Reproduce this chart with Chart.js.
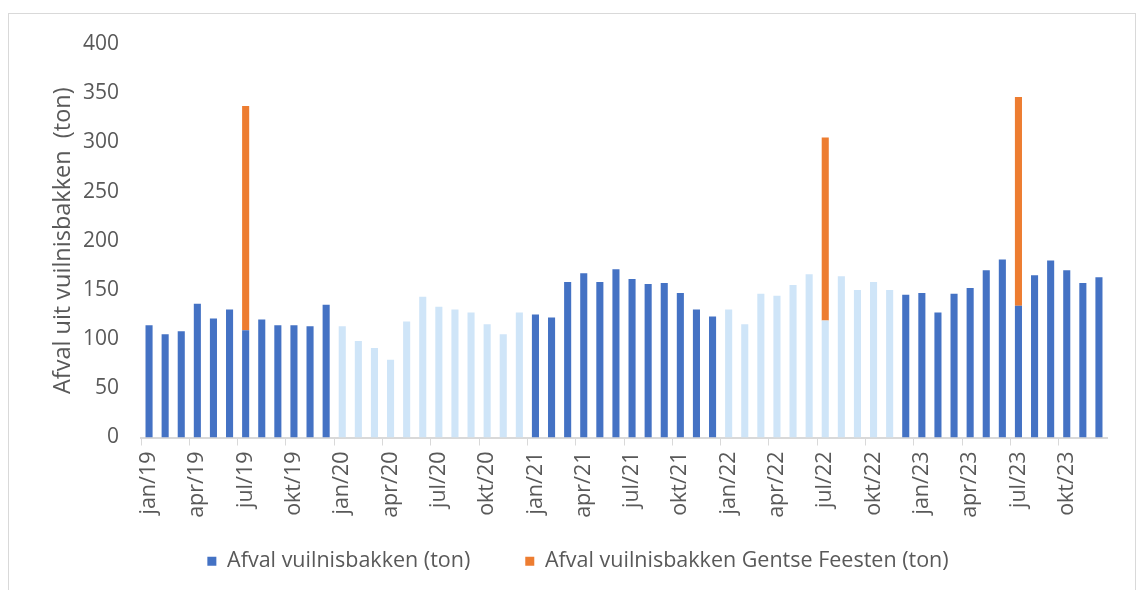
<!DOCTYPE html>
<html>
<head>
<meta charset="utf-8">
<script src="https://cdn.jsdelivr.net/npm/chart.js@4"></script>
<style>
  body { margin: 0; background: #fff; }
  #wrap { position: relative; width: 1136px; height: 590px; }
  #frame { position: absolute; left: 8px; top: 13px; width: 1126px; height: 600px; border: 1px solid #d9d9d9; }
  canvas { position: absolute; left: 0; top: 0; }
</style>
</head>
<body>
<div id="wrap">
  <div id="frame"></div>
  <canvas id="myChart" width="1136" height="590"></canvas>
</div>
<script>
var maanden = ["jan", "feb", "mrt", "apr", "mei", "jun", "jul", "aug", "sep", "okt", "nov", "dec"];
var jaren = ["19", "20", "21", "22", "23"];

// tonnen per maand, jan/19 t.e.m. dec/23
var afval = [
    114, 105, 108, 136, 121, 130, 109, 120, 114, 114, 113, 135,
    113, 98, 91, 79, 118, 143, 133, 130, 127, 115, 105, 127,
    125, 122, 158, 167, 158, 171, 161, 156, 157, 147, 130, 123,
    130, 115, 146, 144, 155, 166, 119, 164, 150, 158, 150, 145,
    147, 127, 146, 152, 170, 181, 134, 165, 180, 170, 157, 163
];
// extra tijdens de Gentse Feesten (juli)
var feesten = {6: 228, 42: 186, 54: 212};

var yTicks = [0, 50, 100, 150, 200, 250, 300, 350, 400];

var labels = [];
for (var j in jaren) {
    for (var m in maanden) {
        labels.push(maanden[m] + "/" + jaren[j]);
    }
}
var gentse = afval.map(function (v, i) { return feesten[i] !== undefined ? feesten[i] : null; });

var blauw = '#4472C4';
var lichtblauw = '#CFE5F8';
var oranje = '#ED7D31';
var grijs = '#595959';
var lijn = '#d9d9d9';
var font = "'Open Sans', sans-serif";

function barColor(ctx) {
    var i = ctx.dataIndex;
    if (i === undefined) return blauw;
    if ((i >= 12 && i <= 23) || (i >= 36 && i <= 46)) return lichtblauw;
    return blauw;
}

// legend: keep the wide gap between items but not the tall box
var legendFix = {
    id: 'legendFix',
    beforeInit: function (chart) {
        var fit = chart.legend.fit;
        chart.legend.fit = function () {
            fit.bind(chart.legend)();
            this.height = 52.5;
        };
    },
    afterLayout: function (chart) {
        chart.legend.top -= 42;
        chart.legend.bottom = chart.height;
    }
};

var ctx = document.getElementById("myChart").getContext('2d');
var myChart = new Chart(ctx, {
    type: 'bar',
    data: {
        labels: labels,
        datasets: [
            {
                label: 'Afval vuilnisbakken (ton)',
                data: afval,
                backgroundColor: barColor,
                barPercentage: 0.44,
                categoryPercentage: 1
            },
            {
                label: 'Afval vuilnisbakken Gentse Feesten (ton)',
                data: gentse,
                backgroundColor: oranje,
                barPercentage: 0.44,
                categoryPercentage: 1
            }
        ]
    },
    options: {
        responsive: false,
        animation: false,
        layout: { padding: { left: 49, right: 29, top: 44, bottom: 0 } },
        plugins: {
            tooltip: { enabled: false },
            legend: {
                position: 'bottom',
                labels: {
                    boxWidth: 9,
                    boxHeight: 9,
                    padding: 55,
                    color: grijs,
                    font: { family: font, size: 21.5 }
                }
            }
        },
        scales: {
            x: {
                stacked: true,
                offset: true,
                afterFit: function (scale) { scale.height = 100; },
                grid: {
                    offset: true,
                    drawOnChartArea: false,
                    tickLength: 8,
                    color: function (c) { return c.index % 3 === 0 ? lijn : 'rgba(0,0,0,0)'; }
                },
                border: { color: lijn, width: 2 },
                ticks: {
                    autoSkip: false,
                    minRotation: 90,
                    maxRotation: 90,
                    padding: 6,
                    color: grijs,
                    font: { family: font, size: 21.5 },
                    callback: function (v, i) { return i % 3 === 0 ? labels[i] : ''; }
                }
            },
            y: {
                stacked: true,
                min: yTicks[0],
                max: yTicks[yTicks.length - 1],
                afterFit: function (scale) { scale.width = 92; },
                afterBuildTicks: function (scale) {
                    scale.ticks = yTicks.map(function (v) { return { value: v }; });
                },
                grid: { display: false, drawTicks: false },
                border: { display: false },
                ticks: {
                    padding: 22,
                    color: grijs,
                    font: { family: font, size: 21 }
                },
                title: {
                    display: true,
                    text: 'Afval uit vuilnisbakken  (ton)',
                    color: grijs,
                    padding: 0,
                    font: { family: font, size: 23.5 }
                }
            }
        }
    },
    plugins: [legendFix]
});
</script>
</body>
</html>
